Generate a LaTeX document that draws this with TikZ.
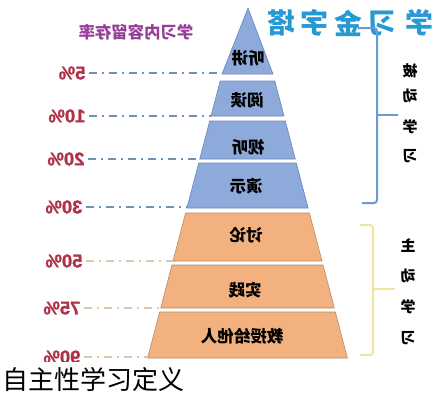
\documentclass[tikz,border=0pt]{standalone}
\usepackage{fontspec}
\setmainfont{Noto Sans CJK SC}
\newfontfamily\numfont{Liberation Sans}[BoldFeatures={FakeBold=1.2}]
\usepackage{graphicx}
\usepackage{tikz}

\definecolor{layblue}{RGB}{142,170,219}
\definecolor{blueedge}{RGB}{105,135,190}
\definecolor{layorange}{RGB}{243,177,127}
\definecolor{orangeedge}{RGB}{180,140,110}
\definecolor{pctred}{RGB}{176,50,72}
\definecolor{guideblue}{RGB}{110,145,180}
\definecolor{guidetan}{RGB}{222,198,168}
\definecolor{titleblue}{RGB}{38,152,212}
\definecolor{subpurple}{RGB}{150,62,150}
\definecolor{bracketblue}{RGB}{110,155,205}
\definecolor{bracketyellow}{RGB}{240,228,160}

\newcommand{\flipx}[1]{\scalebox{-1}[1]{#1}}

\begin{document}
\begin{tikzpicture}[x=1pt,y=-1pt,
  laytxt/.style={font=\fontsize{16.5}{16.5}\selectfont\bfseries, inner sep=0pt},
  pct/.style={font=\numfont\fontsize{18.5}{18.5}\selectfont\bfseries, text=pctred, anchor=east},
  guide/.style={line width=1.8pt, dash pattern=on 8pt off 5pt on 2pt off 5pt},
  sidetxt/.style={font=\fontsize{15}{15}\selectfont\bfseries, inner sep=0pt},
  titletxt/.style={font=\fontsize{28}{28}\selectfont\bfseries, text=titleblue, inner sep=0pt},
  brace/.style={line width=2pt, rounded corners=3pt}]

\useasboundingbox (0,0) rectangle (438,400);

\def\cx{247.5} \def\w{25.5} \def\k{0.262}

%pyramid
\draw[line width=0.6pt, draw=blueedge, fill=layblue] (248,8) -- (\cx+\w,74) -- (\cx-\w,74) -- cycle;
\coordinate (edge1) at (\cx-\w,74);
\foreach \t/\b/\f/\e/\n in {81/116/layblue/blueedge/2, 121/159/layblue/blueedge/3,
  163/208/layblue/blueedge/4, 213/261/layorange/orangeedge/5,
  265/308/layorange/orangeedge/6, 312/358/layorange/orangeedge/7} {
  \pgfmathsetmacro\wt{\w+\k*(\t-74)}
  \pgfmathsetmacro\wb{\w+\k*(\b-74)}
  \draw[line width=0.6pt, draw=\e, fill=\f] (\cx-\wt,\t) -- (\cx+\wt,\t) -- (\cx+\wb,\b) -- (\cx-\wb,\b) -- cycle;
  \coordinate (edge\n) at (\cx-\wb,\b);
}

\node[laytxt] (lay1) at (248,58) {\flipx{听讲}};
\node[laytxt] (lay2) at (247,100) {\flipx{阅读}};
\node[laytxt] (lay3) at (248,147) {\flipx{视听}};
\node[laytxt] (lay4) at (246,186) {\flipx{演示}};
\node[laytxt] (lay5) at (246,235) {\flipx{讨论}};
\node[laytxt] (lay6) at (245,290) {\flipx{实践}};
\node[laytxt] (lay7) at (242,336) {\flipx{教授给他人}};

%retention rates
\foreach \p/\x/\y/\g [count=\n] in {5\%/89/73/guideblue, 10\%/89/116/guideblue,
  20\%/88/159/guideblue, 30\%/86/207/guideblue, 50\%/86/261/guidetan,
  75\%/84/308/guidetan, 90\%/84/357/guidetan} {
  \node[pct] (pct\n) at (\x,\y) {\flipx{\p}};
  \draw[guide, \g] (pct\n.east) -- (pct\n.east -| edge\n);
}

%titles
\foreach \ch/\x [count=\i] in {塔/281,字/314,金/348,习/382,学/419}
  \node[titletxt] (title\i) at (\x,23) {\flipx{\ch}};
\node[font=\fontsize{16.4}{16.4}\selectfont\bfseries, text=subpurple, inner sep=0pt] (sub) at (136,32) {\flipx{学习内容留存率}};

%braces
\draw[brace, bracketblue] (358,28) -- (377,28) -- (377,203) -- (362,203);
\draw[line width=2pt, bracketblue] (377,115) -- (398,115);
\foreach \ch/\y [count=\i] in {被/71,动/96,学/127,习/156}
  \node[sidetxt] (pas\i) at (410,\y) {\flipx{\ch}};

\draw[brace, bracketyellow] (360,225) -- (373,225) -- (373,355) -- (360,355);
\draw[line width=2pt, bracketyellow] (373,289) -- (395,289);
\foreach \ch/\y [count=\i] in {主/246,动/276,学/307,习/338}
  \node[sidetxt] (act\i) at (408,\y) {\flipx{\ch}};

%caption
\fill[white] (0,362) rectangle (190,400);
\node[anchor=west, font=\fontsize{26}{26}\selectfont, inner sep=0pt] (cap) at (2,380) {自主性学习定义};

\end{tikzpicture}
\end{document}
